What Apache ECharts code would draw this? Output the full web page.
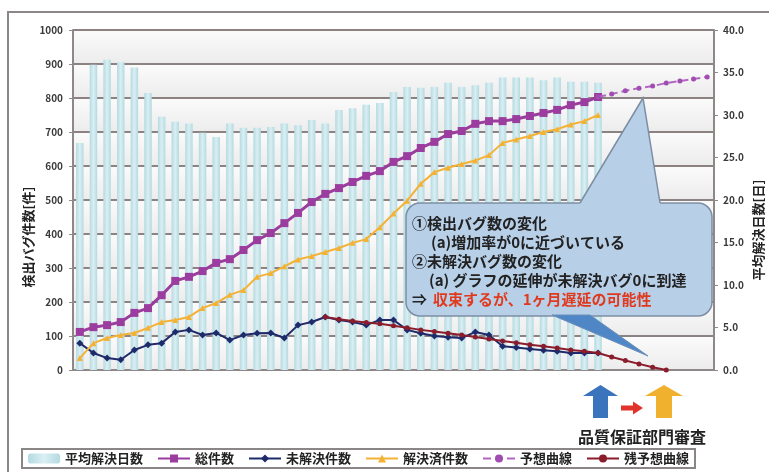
<!DOCTYPE html>
<html>
<head>
<meta charset="utf-8">
<script src="https://cdn.jsdelivr.net/npm/echarts@6/dist/echarts.min.js"></script>
<style>
  html, body { margin: 0; padding: 0; background: #fff; }
  #chart { width: 769px; height: 472px; }
</style>
</head>
<body>
<div id="chart"></div>
<script>
// Weekly bug tracking: counts on the left axis, average days to resolve on the right axis
const categories = ['1','2','3','4','5','6','7','8','9','10','11','12','13','14','15','16',
  '17','18','19','20','21','22','23','24','25','26','27','28','29','30','31','32',
  '33','34','35','36','37','38','39','40','41','42','43','44','45','46','47'];

const leftTickLabels = ['0','100','200','300','400','500','600','700','800','900','1000'];
const rightTickLabels = ['0.0','5.0','10.0','15.0','20.0','25.0','30.0','35.0','40.0'];

// 平均解決日数 (days)
const avgDays = [26.7,35.9,36.5,36.2,35.6,32.6,29.8,29.2,29.0,27.9,27.4,29.0,28.5,28.5,28.6,29.0,
  28.8,29.4,29.0,30.6,30.8,31.2,31.4,32.7,33.3,33.2,33.3,33.8,33.3,33.5,33.8,34.4,
  34.4,34.4,34.1,34.4,33.9,33.9,33.8];

// 総件数
const totalCount = [112,126,132,141,168,182,220,262,274,291,315,326,353,382,403,432,
  462,494,518,535,553,571,585,612,629,653,671,694,703,724,732,732,
  738,747,756,765,779,788,803];

// 未解決件数
const openCount = [79,50,35,30,59,74,79,112,118,103,109,88,103,108,109,94,
  132,141,156,147,141,132,147,147,118,108,100,96,94,112,103,70,
  66,62,58,55,50,50,50];

// 解決済件数
const closedCount = [35,79,94,103,109,124,141,147,156,182,197,221,235,274,285,305,
  325,335,347,359,374,385,420,460,498,548,582,595,606,616,632,668,
  678,688,700,708,722,732,750];

// 予想曲線
const totalForecast = [null,null,null,null,null,null,null,null,null,null,null,null,null,null,null,null,
  null,null,null,null,null,null,null,null,null,null,null,null,null,null,null,null,
  null,null,null,null,null,null,803,812,821,829,835,844,850,856,862];

// 残予想曲線
const openForecast = [null,null,null,null,null,null,null,null,null,null,null,null,null,null,null,null,
  null,null,156,149,144,140,136,130,124,118,113,108,103,97,91,85,
  80,74,70,65,59,55,50,38,28,18,8,0,null,null,null];

const FONT = '"Noto Sans CJK JP", "Noto Sans", sans-serif';
const chart = echarts.init(document.getElementById('chart'));

const axisGray = '#8f8888';
const tickLabelStyle = { color: '#3a3a3a', fontSize: 10, fontWeight: 'bold', fontFamily: FONT };

const option = {
  animation: false,
  backgroundColor: '#ffffff',
  textStyle: { fontFamily: FONT },
  grid: { left: 73, right: 55, top: 30, bottom: 102 },
  legend: {
    left: 22, top: 449,
    padding: [3, 6],
    borderColor: '#8a8686', borderWidth: 2, backgroundColor: '#ffffff',
    itemWidth: 32, itemHeight: 10, itemGap: 14,
    textStyle: { fontSize: 13, fontWeight: 'bold', color: '#222', fontFamily: FONT },
    data: ['平均解決日数', '総件数', '未解決件数', '解決済件数', '予想曲線', '残予想曲線']
  },
  xAxis: {
    type: 'category',
    data: categories,
    boundaryGap: true,
    axisLabel: { show: false },
    axisTick: { show: false },
    axisLine: { lineStyle: { color: axisGray, width: 2 } }
  },
  yAxis: [
    {
      type: 'value', min: 0, max: 1000, interval: 100,
      axisLine: { show: true, lineStyle: { color: axisGray, width: 2 } },
      axisTick: { show: true, length: 4, lineStyle: { color: axisGray, width: 1 } },
      axisLabel: { ...tickLabelStyle, margin: 10, formatter: (v) => leftTickLabels[Math.round(v / 100)] },
      splitLine: { show: true, lineStyle: { color: '#8c8282', width: 2 } },
      splitArea: {
        show: true,
        areaStyle: {
          color: [{
            type: 'linear', x: 0, y: 0, x2: 0, y2: 1,
            colorStops: [{ offset: 0, color: '#fbfbfb' }, { offset: 1, color: '#ececec' }]
          }]
        }
      }
    },
    {
      type: 'value', min: 0, max: 40, interval: 5, position: 'right',
      axisLine: { show: true, lineStyle: { color: axisGray, width: 2 } },
      axisTick: { show: true, length: 4, lineStyle: { color: axisGray, width: 1 } },
      axisLabel: { ...tickLabelStyle, margin: 9, formatter: (v) => rightTickLabels[Math.round(v / 5)] },
      splitLine: { show: false }
    }
  ],
  series: [
    {
      name: '平均解決日数', type: 'bar', yAxisIndex: 1, data: avgDays,
      barWidth: '55%',
      itemStyle: {
        color: {
          type: 'linear', x: 0, y: 0, x2: 1, y2: 0,
          colorStops: [
            { offset: 0, color: '#b4dae1' },
            { offset: 0.5, color: '#daeff3' },
            { offset: 1, color: '#b4dae1' }
          ]
        }
      },
      z: 1
    },
    {
      name: '総件数', type: 'line', data: totalCount,
      symbol: 'rect', symbolSize: 8,
      lineStyle: { color: '#9a3d9e', width: 3 },
      itemStyle: { color: '#9a3d9e' },
      z: 3
    },
    {
      name: '未解決件数', type: 'line', data: openCount,
      symbol: 'diamond', symbolSize: 7,
      lineStyle: { color: '#1f2a6b', width: 2 },
      itemStyle: { color: '#1f2a6b' },
      z: 3
    },
    {
      name: '解決済件数', type: 'line', data: closedCount,
      symbol: 'triangle', symbolSize: 6,
      lineStyle: { color: '#f4b235', width: 2 },
      itemStyle: { color: '#f4b235' },
      z: 3
    },
    {
      name: '予想曲線', type: 'line', data: totalForecast,
      symbol: 'circle', symbolSize: 5,
      lineStyle: { color: '#b266c2', width: 2, type: 'dashed' },
      itemStyle: { color: '#a04cb0' },
      z: 4
    },
    {
      name: '残予想曲線', type: 'line', data: openForecast,
      symbol: 'circle', symbolSize: 5,
      lineStyle: { color: '#8a1c2c', width: 2 },
      itemStyle: { color: '#8a1c2c' },
      z: 4
    }
  ],
  graphic: [
    // outer frame
    { type: 'polyline', shape: { points: [[8, 472], [8, 12], [769, 12]] },
      style: { stroke: '#8c8787', lineWidth: 2, fill: null }, z: 50 },
    // axis names
    { type: 'text', x: 28, y: 237, rotation: Math.PI / 2,
      style: { text: '検出バグ件数[件]', fontSize: 13, fontWeight: 'bold', fill: '#222',
        fontFamily: FONT, align: 'center', verticalAlign: 'middle' }, z: 50 },
    { type: 'text', x: 758, y: 230, rotation: Math.PI / 2,
      style: { text: '平均解決日数[日]', fontSize: 13, fontWeight: 'bold', fill: '#222',
        fontFamily: FONT, align: 'center', verticalAlign: 'middle' }, z: 50 },
    // callout bubble
    { type: 'rect', shape: { x: 406, y: 203, width: 306, height: 113, r: 14 },
      style: { fill: '#b8cfe8', stroke: '#7d8ea3', lineWidth: 1.5 }, z: 60 },
    { type: 'polygon', shape: { points: [[578, 206.5], [643, 98], [660.5, 206.5]] },
      style: { fill: '#b8cfe8' }, z: 61 },
    { type: 'polyline', shape: { points: [[580, 203], [643, 98], [660, 203]] },
      style: { stroke: '#7d8ea3', lineWidth: 1.5, fill: null }, z: 61 },
    { type: 'polygon', shape: { points: [[552, 315], [648, 356], [590, 315]] },
      style: { fill: '#4f86c6', stroke: '#6b8fb8', lineWidth: 1 }, z: 61 },
    { type: 'text', x: 412, y: 223,
      style: { text: '①検出バグ数の変化', fontSize: 15, fontWeight: 'bold', fill: '#222',
        fontFamily: FONT, verticalAlign: 'middle' }, z: 62 },
    { type: 'text', x: 431, y: 242,
      style: { text: '(a)増加率が0に近づいている', fontSize: 15, fontWeight: 'bold', fill: '#222',
        fontFamily: FONT, verticalAlign: 'middle' }, z: 62 },
    { type: 'text', x: 412, y: 261,
      style: { text: '②未解決バグ数の変化', fontSize: 15, fontWeight: 'bold', fill: '#222',
        fontFamily: FONT, verticalAlign: 'middle' }, z: 62 },
    { type: 'text', x: 429, y: 280,
      style: { text: '(a) グラフの延伸が未解決バグ0に到達', fontSize: 15, fontWeight: 'bold', fill: '#222',
        fontFamily: FONT, verticalAlign: 'middle' }, z: 62 },
    { type: 'text', x: 412, y: 299,
      style: { text: '⇒', fontSize: 15, fontWeight: 'bold', fill: '#222',
        fontFamily: FONT, verticalAlign: 'middle' }, z: 62 },
    { type: 'text', x: 433, y: 299,
      style: { text: '収束するが、1ヶ月遅延の可能性', fontSize: 15, fontWeight: 'bold', fill: '#e03a1e',
        fontFamily: FONT, verticalAlign: 'middle' }, z: 62 },
    // review hand-off arrows
    { type: 'polygon', shape: { points: [[583, 396], [600.5, 385], [618, 396], [608, 396], [608, 418], [593, 418], [593, 396]] },
      style: { fill: '#3a74bd' }, z: 50 },
    { type: 'polygon', shape: { points: [[621, 405.5], [633, 405.5], [633, 401.5], [643, 408], [633, 414.5], [633, 410.5], [621, 410.5]] },
      style: { fill: '#e2332b' }, z: 50 },
    { type: 'polygon', shape: { points: [[645, 396], [664, 385], [683, 396], [672, 396], [672, 418], [656, 418], [656, 396]] },
      style: { fill: '#f0b22e' }, z: 50 },
    { type: 'text', x: 642, y: 437,
      style: { text: '品質保証部門審査', fontSize: 16, fontWeight: 'bold', fill: '#222',
        fontFamily: FONT, align: 'center', verticalAlign: 'middle' }, z: 50 }
  ]
};

chart.setOption(option);
</script>
</body>
</html>
